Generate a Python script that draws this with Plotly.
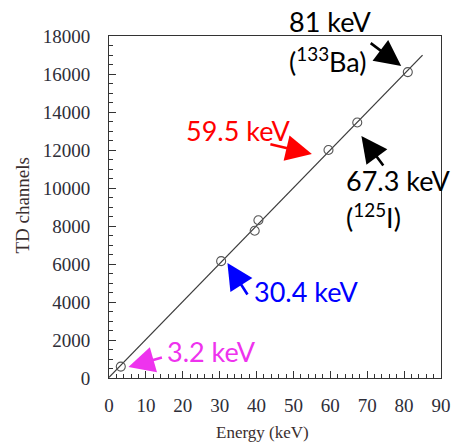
import numpy as np
import plotly.graph_objects as go

# Calibration points: photon energy (keV) vs. TD channel
energy_kev = [3.2, 30.4, 39.5, 40.5, 59.5, 67.3, 81.0]
td_channels = [600, 6150, 7750, 8300, 12000, 13450, 16100]

# Range over which the linear calibration fit is drawn
fit_range = [0, 85]

x_ticks = [0, 10, 20, 30, 40, 50, 60, 70, 80, 90]
y_ticks = [0, 2000, 4000, 6000, 8000, 10000, 12000, 14000, 16000, 18000]

slope, intercept = np.polyfit(energy_kev, td_channels, 1)
fit_x = np.array(fit_range, dtype=float)
fit_y = slope * fit_x + intercept

W, H = 461, 447
ML, MR, MT, MB = 109, 10, 36, 69
PW, PH = W - ML - MR, H - MT - MB


def px(xp, yp):
    """Pixel position on the page -> paper coordinates."""
    return (xp - ML) / PW, (H - MB - yp) / PH


fig = go.Figure()
fig.add_trace(go.Scatter(
    x=fit_x, y=fit_y, mode="lines",
    line=dict(color="#3c3c3c", width=1.3),
    hoverinfo="skip", showlegend=False,
))
fig.add_trace(go.Scatter(
    x=energy_kev, y=td_channels, mode="markers",
    marker=dict(symbol="circle-open", size=9, color="#555555",
                line=dict(width=1.1)),
    showlegend=False,
))

serif = "Liberation Serif"
sans = "Lato"
tick_col = "#2e2e38"
tick_font = dict(family=serif, size=19, color=tick_col)

fig.update_xaxes(
    range=[0, 90], tickmode="array", tickvals=x_ticks,
    ticktext=[str(v) for v in x_ticks], tickfont=tick_font,
    ticklabelstandoff=10,
    showline=True, linecolor="#333333", linewidth=1, mirror=True,
    ticks="inside", ticklen=7, tickwidth=1, tickcolor="#333333",
    showgrid=False, zeroline=False,
    minor=dict(dtick=2, ticks="inside", ticklen=4, tickcolor="#333333"),
)
fig.update_yaxes(
    range=[0, 18000], tickmode="array", tickvals=y_ticks,
    ticktext=[str(v) for v in y_ticks], tickfont=tick_font,
    ticklabelstandoff=14,
    showline=True, linecolor="#333333", linewidth=1, mirror=True,
    ticks="inside", ticklen=7, tickwidth=1, tickcolor="#333333",
    showgrid=False, zeroline=False,
    minor=dict(dtick=500, ticks="inside", ticklen=4, tickcolor="#333333"),
)

annotations = []

# Axis titles
xt, yt = px(267, 433)
annotations.append(dict(text="Energy (keV)", x=xt, y=yt, xref="paper", yref="paper",
                        showarrow=False, xanchor="center", yanchor="middle",
                        font=dict(family=serif, size=17, color="#3a2e2e")))
xt, yt = px(20, 205)
annotations.append(dict(text="TD channels", x=xt, y=yt, xref="paper", yref="paper",
                        showarrow=False, textangle=-90, xanchor="center", yanchor="middle",
                        font=dict(family=serif, size=19, color="#3a2e2e")))

# Peak labels: (text, anchor pixel, xanchor, colour)
labels = [
    ("81 keV", (337, 22), "center", "#000000"),
    ("(<sup>133</sup>Ba)", (335, 60), "center", "#000000"),
    ("59.5 keV", (242, 130), "center", "#ff0000"),
    ("67.3 keV", (351, 180), "left", "#000000"),
    ("(<sup>125</sup>I)", (351, 216), "left", "#000000"),
    ("30.4 keV", (256, 291), "left", "#0000ff"),
    ("3.2 keV", (167, 351), "left", "#ee33ee"),
]
for text, (lx, ly), anchor, col in labels:
    xa, ya = px(lx, ly)
    annotations.append(dict(text=text, x=xa, y=ya, xref="paper", yref="paper",
                            showarrow=False, xanchor=anchor, yanchor="middle",
                            font=dict(family=sans, size=27, color=col)))

# Arrows: (tip pixel, tail pixel, colour)
arrows = [
    ((410, 66), (378, 42), "#000000"),
    ((318, 154), (275, 144), "#ff0000"),
    ((369, 136), (392, 167), "#000000"),
    ((231, 263), (252, 296), "#0000ff"),
    ((129, 367), (164, 357), "#ee33ee"),
]
for (hx, hy), (tx, ty), col in arrows:
    xa, ya = px(hx, hy)
    annotations.append(dict(text="", x=xa, y=ya, xref="paper", yref="paper",
                            showarrow=True, ax=tx - hx, ay=ty - hy,
                            arrowhead=2, arrowsize=2.0, arrowwidth=2.6,
                            arrowcolor=col, standoff=0))

fig.update_layout(
    width=W, height=H,
    margin=dict(l=ML, r=MR, t=MT, b=MB),
    paper_bgcolor="white", plot_bgcolor="white",
    font=dict(family=serif, color=tick_col),
    annotations=annotations,
)

fig.write_html("out.html")
